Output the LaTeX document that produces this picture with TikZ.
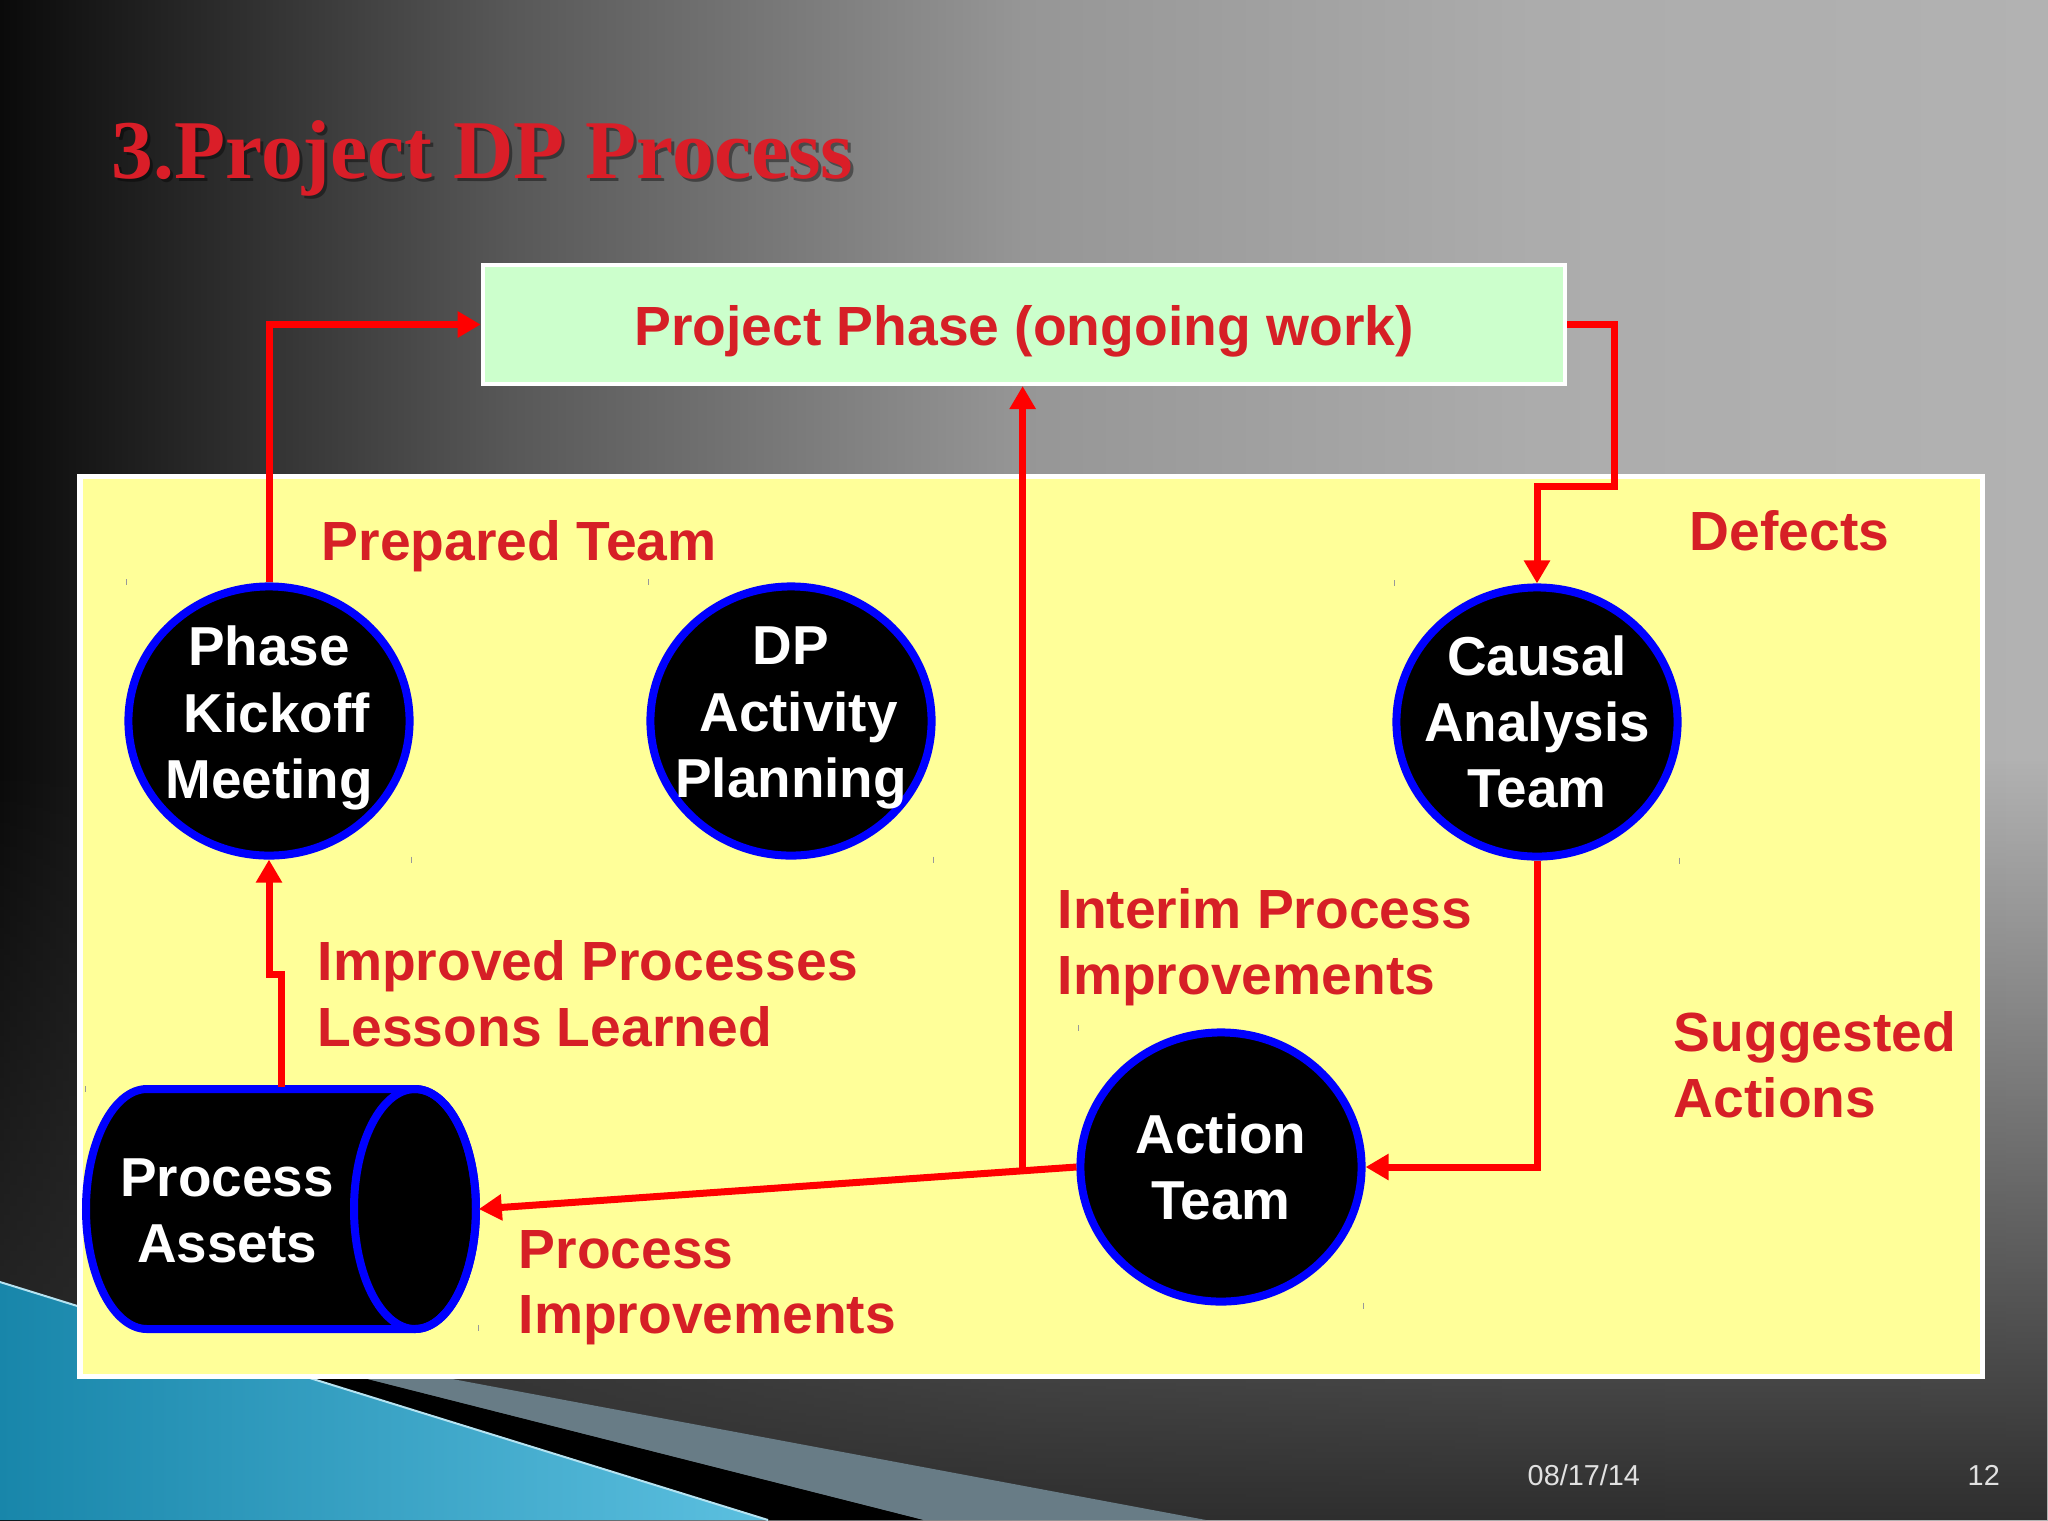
\documentclass[tikz,border=0pt]{standalone}
\usepackage{fontspec}
\setmainfont{Liberation Sans}
\newfontfamily\titleserif{Liberation Serif}
\usetikzlibrary{shapes.geometric,arrows.meta,calc,fadings}
\definecolor{lblred}{RGB}{214,31,38}
\definecolor{arrred}{RGB}{255,0,0}
\definecolor{titlered}{RGB}{218,30,40}
\definecolor{panelyellow}{RGB}{255,255,153}
\definecolor{boxgreen}{RGB}{204,255,204}
\definecolor{tealA}{RGB}{24,134,170}
\definecolor{tealB}{RGB}{92,192,224}
\definecolor{slate}{RGB}{104,124,134}
\definecolor{bgA}{RGB}{10,10,10}
\definecolor{bgB}{RGB}{88,88,88}
\definecolor{bgC}{RGB}{150,150,150}
\definecolor{bgD}{RGB}{172,172,172}
\definecolor{bgE}{RGB}{178,178,178}
\definecolor{datecol}{RGB}{225,225,225}
\pgfdeclarehorizontalshading{bgshade}{100bp}{color(0bp)=(bgA); color(25bp)=(bgA); color(37.5bp)=(bgB); color(50bp)=(bgC); color(62.5bp)=(bgD); color(75bp)=(bgE); color(100bp)=(bgE)}
\tikzfading[name=fadeup, top color=transparent!100, bottom color=transparent!0]
\newcommand\lblfont{\bfseries\fontsize{15.7}{18.8}\selectfont}
\newcommand\ctfont{\bfseries\fontsize{15.6}{18.8}\selectfont}
\begin{document}
\begin{tikzpicture}[x=0.01cm,y=-0.01cm,
  arr/.style={draw=arrred, line width=0.07cm, -{Triangle[width=0.25cm,length=0.23cm]}},
  circ/.style={ellipse, draw=blue, fill=black, line width=0.08cm, minimum width=2.81cm, minimum height=2.69cm, inner sep=0pt},
  ctext/.style={text=white, font=\ctfont, align=center, inner sep=0pt},
  lbl/.style={text=lblred, font=\lblfont, anchor=base west, inner sep=0pt},
  tk/.style={draw=black!40, line width=0.012cm}
]
\useasboundingbox (0,0) rectangle (2048,1520);
% background
\shade[shading=bgshade] (0,0) rectangle (2048,1520);
\fill[black!82, path fading=fadeup] (0,760) rectangle (2048,1520);
% bottom swoosh
\fill[slate] (121,1317) -- (1206,1520) -- (923,1520) -- cycle;
\fill[black] (79,1306) -- (923,1520) -- (768,1520) -- cycle;
\shade[left color=tealA, right color=tealB] (0,1282) -- (768,1520) -- (0,1520) -- cycle;
\draw[white!55!tealB, line width=0.02cm] (0,1282) -- (768,1520);
% panel
\draw[white, line width=0.05cm, fill=panelyellow] (80,476) rectangle (1982,1376);
% title
\node[anchor=base west, inner sep=0pt, text=black, opacity=0.4, font=\titleserif\bfseries\fontsize{23.76}{28}\selectfont] (titleshadow) at (114,181) {3.Project DP Process};
\node[anchor=base west, inner sep=0pt, text=titlered, font=\titleserif\bfseries\fontsize{23.76}{28}\selectfont] (title) at (111,178) {3.Project DP Process};
% project phase box
\node[rectangle, draw=white, fill=boxgreen, line width=0.04cm, minimum width=10.82cm, minimum height=1.19cm, inner sep=0pt, text=lblred, font=\lblfont] (pp) at (1024,324.5) {\raisebox{-0.065cm}[\height][\depth]{Project Phase (ongoing work)}};
% cylinder
\draw[blue, line width=0.08cm, fill=black] (147,1089) -- (415,1089) arc[start angle=-90, end angle=90, x radius=61, y radius=120] -- (147,1329) arc[start angle=90, end angle=270, x radius=61, y radius=120] -- cycle;
\draw[blue, line width=0.08cm] (415,1209) ellipse [x radius=61, y radius=120];
\node[rectangle, inner sep=0pt, minimum width=3.93cm, minimum height=2.42cm] (pa) at (281.5,1209) {};
\node[ctext] (patxt) at (227,1211) {Process\\Assets};
% circles
\node[circ] (pkm) at (269,721) {};
\node[circ] (dpa) at (791,721) {};
\node[circ] (cat) at (1537,722) {};
\node[circ] (act) at (1221,1167) {};
\node[ctext] (pkmtxt) at ($(pkm)+(0,-3)$) {Phase\\\hspace*{0.278em}Kickoff\\Meeting};
\node[ctext] (dpatxt) at ($(dpa)+(0,-3)$) {DP\\\hspace*{0.278em}Activity\\Planning};
\node[ctext] (cattxt) at (cat) {Causal\\Analysis\\Team};
\node[ctext] (acttxt) at (act) {Action\\Team};
% selection ticks
\foreach \n in {pkm,dpa,cat,act}{
  \draw[tk] ($(\n.west |- \n.north)+(2,-3)$) -- ++(0,6);
  \draw[tk] ($(\n.east |- \n.south)+(-2,-3)$) -- ++(0,6);
}
\draw[tk] ($(pa.north west)+(1,-1)$) -- ++(0,6);
\draw[tk] ($(pa.south east)+(0,-6)$) -- ++(0,6);
% connectors
\coordinate (c1) at (1614,486);
\coordinate (j) at ($(act.west)!0.09!(pa.east)$);
\draw[arr] (pkm.north) |- (pp.west);
\draw[arr] (pp.east) -| (c1) -| (cat.north);
\draw[arr] (cat.south) |- (act.east);
\draw[arr] (act.west) -- (pa.east);
\draw[arr] (j) -- (j |- pp.south);
\draw[arr] (pa.north) -- ++(0,-113) -| (pkm.south);
% labels
\node[lbl] (lpt) at (321,560) {Prepared Team};
\node[lbl] (ldef) at (1689,550) {Defects};
\node[lbl] (lint1) at (1057,928) {Interim Process};
\node[lbl] (lint2) at (1057,994) {Improvements};
\node[lbl] (limp1) at (317,980) {Improved Processes};
\node[lbl] (limp2) at (317,1046) {Lessons Learned};
\node[lbl] (lsug1) at (1673,1051) {Suggested};
\node[lbl] (lsug2) at (1673,1117) {Actions};
\node[lbl] (lpi1) at (518,1268) {Process};
\node[lbl] (lpi2) at (518,1333) {Improvements};
% footer
\node[anchor=base west, inner sep=0pt, text=datecol, font=\fontsize{8.2}{10}\selectfont] (date) at (1527,1485) {08/17/14};
\node[anchor=base west, inner sep=0pt, text=datecol, font=\fontsize{8.2}{10}\selectfont] (pgno) at (1967,1485) {12};
\end{tikzpicture}
\end{document}
